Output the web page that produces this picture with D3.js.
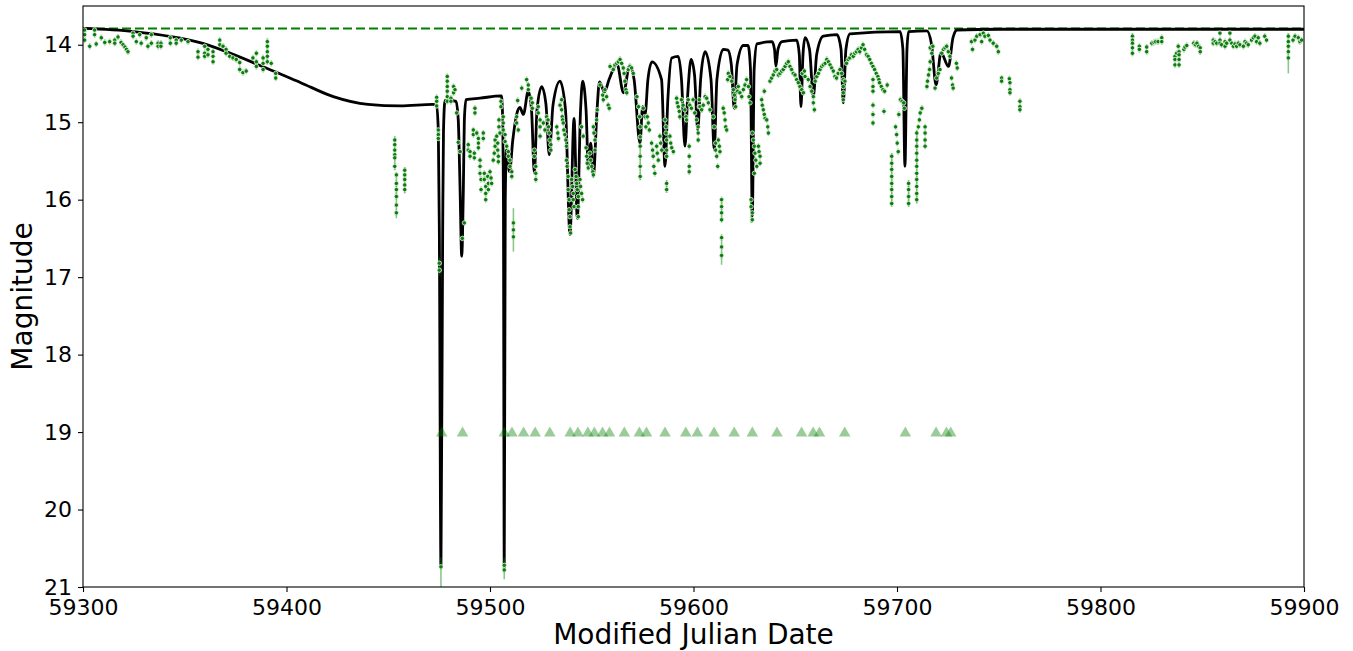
<!DOCTYPE html>
<html><head><meta charset="utf-8">
<script src="https://cdn.jsdelivr.net/npm/d3@7"></script>
<style>body{margin:0;background:#fff} svg{display:block} text{font-family:"DejaVu Sans",sans-serif;fill:#000}</style>
</head><body><svg id="c" width="1353" height="651"></svg>
<script>
// ---------- data ----------
const xTicks = [59300, 59400, 59500, 59600, 59700, 59800, 59900];
const yTicks = [14, 15, 16, 17, 18, 19, 20, 21];
const baselineMag = 13.79;
const limitMag = 19;
const xLabel = "Modified Julian Date";
const yLabel = "Magnitude";

// model light curve [MJD, mag]
const model = [
[59300,13.79],[59325,13.83],[59357,13.97],[59390,14.30],[59407,14.49],[59423,14.67],[59440,14.77],[59456,14.79],[59472,14.77],
[59473.7,14.79],[59474.6,15.10],[59475.1,16.39],[59475.9,20.75],[59476.75,16.39],[59477.15,15.10],[59477.9,14.72],[59480.3,14.72],[59483.3,14.73],
[59484.4,14.97],[59485.3,15.87],[59486.1,16.73],[59486.9,15.87],[59487.4,14.97],[59488.2,14.71],[59495.1,14.69],[59505.6,14.66],
[59506.1,14.84],[59506.6,16.0],[59507.0,20.78],[59507.5,16.0],[59508.1,15.36],[59509.6,15.64],[59511.2,15.23],[59513.1,14.90],[59514.7,14.81],
[59516.4,14.90],[59518.8,14.60],[59520.4,14.84],[59521.8,15.66],[59523.1,14.84],[59525.4,14.54],[59527.5,14.77],[59529.1,15.42],[59531.0,14.77],
[59534.4,14.47],[59537.1,14.84],[59539.3,16.45],[59541.3,14.95],[59542.9,16.24],[59544.5,14.84],[59545.5,14.47],[59547.2,14.84],[59548.3,15.57],
[59549.5,15.27],[59550.8,15.70],[59552.6,14.84],[59553.8,14.48],[59556.3,14.61],[59558.5,14.45],[59562.4,14.25],[59565.6,14.62],[59568.6,14.27],
[59570.8,14.45],[59573.7,15.27],[59575.0,14.80],[59576.2,14.90],[59577.6,14.45],[59579.6,14.22],[59584.3,14.45],[59586.0,15.57],[59587.4,14.70],
[59589.3,14.17],[59592.5,14.15],[59594.1,14.45],[59595.8,15.31],[59597.3,14.58],[59598.8,14.19],[59600.5,14.39],[59602.1,15.10],[59603.5,14.45],
[59605.7,14.09],[59608.6,14.45],[59610.2,15.36],[59611.5,14.45],[59614.6,14.06],[59616.9,14.07],[59618.6,14.26],[59620.0,14.82],[59621.4,14.26],
[59624.5,14.01],[59626.8,14.01],[59628.0,14.32],[59628.9,16.21],[59629.8,14.32],[59631.2,13.99],[59638.6,13.96],[59639.8,14.06],[59640.5,14.28],
[59641.5,14.06],[59643.5,13.96],[59650.7,13.94],[59652.0,14.13],[59652.8,14.80],[59653.8,14.13],[59654.8,13.91],[59657.0,14.06],[59658.9,14.67],
[59660.5,14.13],[59663.8,13.89],[59670.5,13.87],[59672.5,14.06],[59673.6,14.75],[59674.9,14.06],[59676.9,13.86],[59701.5,13.83],[59702.9,14.06],
[59703.9,15.57],[59704.9,14.06],[59705.7,13.83],[59714.7,13.82],[59717.0,14.0],[59719.2,14.52],[59721.6,14.10],[59725.3,14.28],[59727.5,13.91],
[59729.5,13.81],[59750.6,13.80],[59900,13.80]
];

// observations: [MJD, [mags observed at that epoch]]
const obs = [
[59300.8,[13.81,13.87,13.94]],[59303.3,[14.02]],[59305.7,[13.81,13.87]],[59306.5,[13.99]],[59309.0,[13.91]],[59310.7,[13.97]],
[59313.1,[13.96]],[59315.6,[13.94,13.98]],[59317.2,[13.90]],[59318.7,[13.97]],[59319.7,[14.00]],[59320.6,[14.03]],[59321.4,[14.06]],
[59322.1,[14.09]],[59324.6,[13.85,13.89]],[59326.2,[13.96]],[59327.9,[13.87]],[59328.6,[13.98]],[59331.1,[13.91]],[59331.9,[14.02]],
[59333.6,[13.87,13.98]],[59336.9,[13.98,14.02]],[59338.3,[13.98,14.02]],[59342.9,[13.91,13.98]],[59345.8,[13.94,13.98]],[59348.3,[13.94]],
[59351.6,[13.96]],[59356.5,[14.09,14.16]],[59359.8,[14.02,14.11,14.15]],[59361.4,[14.06,14.13]],[59363.9,[14.09,14.15,14.22]],
[59367.2,[13.94,14.00]],[59368.8,[14.02]],[59370.3,[14.06,14.11]],[59372.1,[14.15]],[59373.7,[14.17]],[59375.3,[14.19]],
[59377.0,[14.23,14.32]],[59378.6,[14.36]],[59380.2,[14.34]],[59383.5,[14.17]],[59385.2,[14.11,14.22,14.28]],[59388.5,[14.17,14.24,14.32]],
[59390.6,[13.96,14.02,14.09,14.15,14.22]],[59392.5,[14.24]],[59394.7,[14.37,14.43]],
[59453.2,[15.23,15.29,15.36,15.42,15.46,15.57]],[59454.0,[15.68,15.79,15.87,15.96,16.07,16.17]],[59458.1,[15.62,15.68,15.74,15.81,15.87]],
[59473.8,[14.68,14.73,14.79]],[59474.6,[15.10,15.16,15.21]],[59475.1,[16.82,16.91]],[59475.9,[20.74]],
[59479.0,[14.41,14.47,14.54,14.60,14.67,14.73]],[59480.8,[14.69,14.73]],[59482.1,[14.54,14.62]],[59482.8,[14.58]],[59483.6,[14.88]],
[59484.4,[15.26]],[59485.3,[15.38]],[59486.4,[16.50]],[59487.4,[16.30]],
[59489.3,[15.29,15.36]],[59490.2,[15.38,15.44]],[59491.8,[15.10,15.16]],[59492.3,[15.40,15.46]],[59492.6,[14.82,14.88]],[59493.5,[15.14]],
[59494.3,[15.21,15.27,15.33]],[59495.1,[15.49,15.57,15.66]],[59495.6,[15.74,15.87]],[59496.7,[15.14,15.21]],[59497.2,[15.66,15.74]],
[59497.9,[15.83,15.92,16.00]],[59498.9,[15.70]],[59499.2,[15.79,15.87]],[59500.0,[15.64]],[59500.5,[15.72]],[59500.8,[15.79]],
[59501.6,[15.49]],[59502.1,[15.40]],[59502.5,[15.23,15.31]],[59503.3,[15.18]],[59503.8,[15.27,15.36]],[59504.1,[15.44,15.51]],
[59504.4,[14.97,15.06]],[59504.9,[15.14]],[59505.4,[14.73,14.80]],[59506.5,[14.93,15.01,15.10]],[59507.0,[20.72,20.78]],
[59507.4,[15.16,15.25]],[59508.2,[15.31]],[59509.0,[15.38,15.44]],[59509.8,[15.49,15.57]],[59510.7,[15.64,15.70]],
[59511.5,[16.30,16.39,16.48]],[59513.1,[14.93,15.01]],[59513.9,[15.10]],[59513.6,[14.72]],[59515.6,[14.56]],[59518.0,[14.45]],
[59518.8,[14.52,14.58]],[59520.2,[14.69]],[59520.8,[14.75,14.82]],[59521.8,[15.36,15.44]],[59522.5,[15.57,15.66,15.74]],
[59523.7,[14.80,14.88]],[59524.6,[14.97,15.06,15.18]],[59526.2,[15.01]],[59527.0,[15.10]],[59527.8,[14.93]],[59528.5,[14.97]],
[59528.8,[15.06]],[59529.1,[15.14]],[59529.4,[15.23]],[59529.9,[15.29,15.36]],[59532.8,[15.06]],[59533.3,[15.14]],[59533.6,[15.21]],
[59534.4,[14.78]],[59535.2,[14.71,14.84]],[59535.5,[14.93]],[59535.7,[14.97]],[59536.0,[15.01]],[59536.3,[15.10]],[59536.8,[15.16]],
[59537.3,[15.23]],[59537.6,[15.31,15.49]],[59537.9,[15.57]],[59538.4,[15.70,15.87]],[59538.9,[16.00,16.13]],[59539.3,[16.22,16.35]],
[59539.6,[16.43]],[59540.1,[15.74]],[59540.6,[15.83]],[59540.9,[15.92,16.00]],[59541.3,[16.09]],[59541.8,[15.61]],[59542.3,[15.70]],
[59542.6,[15.79]],[59542.9,[15.87]],[59543.4,[15.96,16.09,16.22]],[59544.2,[15.74]],[59544.5,[15.83]],[59545.0,[15.06,15.92]],
[59545.5,[16.00]],[59545.8,[15.18]],[59547.2,[15.33]],[59547.5,[15.44]],[59547.8,[15.53]],[59548.3,[15.59]],[59549.1,[15.40]],
[59549.5,[15.49]],[59550.0,[15.57]],[59550.5,[15.64]],[59550.8,[15.06,15.68]],[59551.1,[15.14]],[59551.6,[15.23,15.36]],
[59552.4,[14.97]],[59552.7,[14.84]],[59554.1,[14.52]],[59555.4,[14.65]],[59555.7,[14.71]],[59556.5,[14.58]],[59557.3,[14.67]],
[59558.1,[14.78]],[59558.6,[14.82]],[59559.0,[14.28]],[59560.6,[14.32]],[59561.4,[14.26]],[59562.3,[14.24]],[59563.1,[14.22]],
[59563.9,[14.19]],[59564.7,[14.24]],[59565.5,[14.30]],[59565.9,[14.37]],[59566.3,[14.47]],[59566.8,[14.58]],[59567.2,[14.62]],
[59568.0,[14.32]],[59568.8,[14.28]],[59569.6,[14.30]],[59570.4,[14.37]],[59572.2,[14.67]],[59573.0,[14.80]],[59573.5,[14.93]],
[59573.8,[15.06,15.19,15.31,15.44,15.57,15.70]],[59575.3,[14.82]],[59576.2,[14.93]],[59576.6,[15.06]],[59577.3,[14.93]],
[59577.8,[15.01]],[59578.3,[15.10]],[59579.4,[15.27]],[59579.9,[15.36]],[59580.2,[15.44]],[59580.5,[15.57]],[59581.0,[15.66]],
[59581.9,[15.31]],[59582.2,[15.40]],[59582.7,[15.49]],[59583.5,[15.18]],[59583.9,[15.27]],[59584.4,[15.36]],[59586.0,[14.97]],
[59586.5,[15.06,15.14]],[59586.8,[15.23,15.36,15.44,15.79,15.87]],[59588.4,[15.18]],[59588.8,[15.27]],[59589.3,[15.33]],
[59590.1,[15.38]],[59591.7,[14.69]],[59592.0,[14.75]],[59592.5,[14.80]],[59593.0,[14.86]],[59593.3,[14.93]],[59594.1,[14.71]],
[59594.9,[14.78]],[59595.8,[14.84]],[59596.3,[14.93]],[59596.6,[14.97]],[59597.4,[14.71]],[59597.9,[15.31,15.44,15.57,15.64]],
[59598.2,[14.78]],[59599.0,[14.82]],[59599.8,[14.71]],[59600.6,[14.88]],[59601.5,[14.97]],[59602.3,[15.06,15.14,15.23]],
[59602.8,[14.71,14.80]],[59603.2,[14.80]],[59604.0,[14.84]],[59604.8,[14.78]],[59605.7,[14.67]],[59606.5,[14.69]],[59607.3,[14.75]],
[59608.1,[14.84]],[59609.7,[14.93]],[59610.2,[15.06]],[59610.9,[15.27,15.36]],[59611.4,[15.44]],[59611.9,[15.57]],[59612.2,[15.23]],
[59612.7,[15.31]],[59613.0,[15.38]],[59613.8,[16.00,16.09,16.17,16.26,16.49,16.61,16.72]],[59614.6,[14.82]],[59615.1,[14.88]],
[59615.5,[14.97]],[59615.8,[15.06]],[59616.3,[15.10]],[59616.8,[14.45]],[59617.1,[14.37]],[59617.9,[14.41]],[59618.8,[14.47]],
[59619.6,[14.58]],[59620.1,[14.65]],[59620.4,[14.71]],[59620.7,[14.80]],[59621.7,[14.60]],[59622.0,[14.54]],[59622.8,[14.62]],
[59623.7,[14.67]],[59624.5,[14.58]],[59625.3,[14.52]],[59626.1,[14.45]],[59627.0,[14.54]],[59627.3,[14.67]],[59627.8,[14.75]],
[59628.3,[16.00,16.09]],[59628.9,[15.14,16.17,16.26]],[59629.4,[15.23]],[59629.9,[15.31,15.66]],[59630.2,[15.40]],[59630.6,[15.49]],
[59631.1,[15.57]],[59631.9,[15.31]],[59632.2,[15.38]],[59632.7,[15.44,15.53]],[59633.5,[14.71]],[59633.8,[14.78]],[59634.3,[14.84]],
[59634.8,[14.60,14.90]],[59635.2,[14.95]],[59636.0,[14.97]],[59636.5,[15.06]],[59636.8,[15.14]],[59637.6,[14.47]],[59638.4,[14.43]],
[59639.2,[14.39]],[59640.0,[14.34]],[59640.9,[14.32]],[59641.7,[14.39]],[59642.5,[14.37]],[59643.3,[14.34]],[59644.1,[14.32]],
[59645.0,[14.28]],[59645.8,[14.24]],[59646.6,[14.22]],[59647.4,[14.28]],[59648.2,[14.32]],[59649.0,[14.37]],[59649.9,[14.39]],
[59650.7,[14.45]],[59651.5,[14.49]],[59652.3,[14.54]],[59653.2,[14.58]],[59653.5,[14.37]],[59654.0,[14.62]],[59654.5,[14.34]],
[59654.8,[14.41]],[59656.4,[14.45]],[59657.3,[14.54]],[59658.1,[14.60]],[59658.9,[14.67,14.75]],[59659.4,[14.84]],[59659.8,[14.47]],
[59660.6,[14.41]],[59661.4,[14.37]],[59662.2,[14.32]],[59663.0,[14.28]],[59663.8,[14.26]],[59664.7,[14.24]],[59665.5,[14.19]],
[59666.3,[14.22]],[59667.1,[14.26]],[59667.9,[14.30]],[59668.7,[14.34]],[59669.5,[14.41]],[59670.3,[14.43]],[59671.1,[14.37]],
[59672.0,[14.32]],[59672.8,[14.37]],[59673.6,[14.45,14.54,14.62,14.71]],[59674.4,[14.47]],[59675.2,[14.24]],[59676.0,[14.19]],
[59676.8,[14.17]],[59677.6,[14.13]],[59678.5,[14.15]],[59679.3,[14.11]],[59680.1,[14.09]],[59680.9,[14.06]],[59681.7,[14.09]],
[59682.5,[14.04]],[59683.3,[14.00]],[59684.1,[14.06]],[59685.0,[14.13]],[59685.8,[14.15]],[59686.6,[14.19]],[59687.4,[14.24]],
[59688.2,[14.28,14.45,14.54,14.60,14.78,14.90,15.01]],[59689.0,[14.32]],[59689.8,[14.37]],[59690.6,[14.41]],[59691.1,[14.45]],
[59691.4,[14.49]],[59692.3,[14.54]],[59693.1,[14.58]],[59693.6,[14.86]],[59693.9,[14.60]],[59695.2,[14.52]],
[59697.4,[15.44,15.53,15.61,15.70,15.79,15.87,15.96,16.05]],[59699.3,[15.06]],[59699.8,[15.16]],[59700.1,[15.27]],[59700.6,[15.38]],
[59700.9,[14.90]],[59701.7,[14.71]],[59702.5,[14.73]],[59703.3,[14.75]],[59703.6,[14.82]],[59705.7,[15.79,15.87,15.96,16.05]],
[59709.7,[15.14,15.23,15.31,15.40,15.49,15.57,15.66,15.74,15.83,15.92,16.00]],[59710.5,[15.06]],[59711.0,[14.97]],[59711.4,[14.88]],
[59712.2,[14.82]],[59713.8,[15.06,15.14,15.23,15.31]],[59714.7,[14.54]],[59715.0,[14.47]],[59715.5,[14.39]],[59716.0,[14.32]],
[59716.3,[14.22,14.04]],[59717.1,[14.11]],[59717.6,[14.02]],[59718.7,[14.56]],[59719.5,[14.43]],[59720.3,[14.37]],[59721.1,[14.32]],
[59722.0,[14.11]],[59722.8,[14.06]],[59723.6,[14.04]],[59724.4,[14.02]],[59725.2,[14.09]],[59726.0,[14.15]],[59726.8,[14.43]],
[59727.3,[14.52]],[59727.6,[14.56]],[59729.2,[14.24]],[59729.6,[14.30]],
[59736.6,[13.96]],[59737.1,[14.06]],[59738.3,[13.94]],[59739.2,[13.89]],[59740.8,[13.87]],[59741.6,[13.96]],[59742.4,[13.85]],
[59743.2,[13.89]],[59744.9,[13.88]],[59745.7,[13.94]],[59747.3,[13.98]],[59749.0,[14.02]],[59749.8,[14.09]],[59751.4,[14.43,14.47]],
[59755.2,[14.44]],[59755.5,[14.49,14.58,14.62]],[59760.4,[14.73,14.80,14.84]],
[59815.7,[13.89,13.94,13.98,14.04,14.11]],[59819.1,[14.02,14.06]],[59822.7,[14.03,14.09]],[59825.2,[13.98]],[59826.3,[13.97]],
[59827.1,[13.96]],[59828.3,[13.96]],[59830.1,[13.91,13.96]],[59836.6,[14.15,14.19,14.26]],[59837.4,[14.11]],[59838.2,[14.02]],
[59838.6,[14.09,14.13,14.19,14.26]],[59841.0,[14.06]],[59841.5,[14.03]],[59842.4,[14.01]],[59845.8,[13.98]],[59846.6,[14.00]],
[59847.4,[13.98]],[59848.2,[14.02]],[59849.0,[14.04,14.09]],[59855.4,[13.94,13.98]],[59856.3,[13.96]],[59857.1,[13.98]],
[59858.7,[13.85,13.94,13.98]],[59859.5,[14.00]],[59861.2,[13.96,14.02]],[59862.0,[13.98]],[59863.6,[13.85,13.94]],[59864.5,[13.98]],
[59865.3,[14.02]],[59866.1,[13.99]],[59866.9,[14.02]],[59867.7,[13.98]],[59868.5,[14.00]],[59870.2,[14.02]],[59871.0,[13.96]],
[59871.8,[13.98]],[59872.6,[14.00]],[59874.2,[13.94]],[59875.1,[13.91]],[59875.9,[13.89]],[59876.7,[13.96]],[59877.5,[13.91]],
[59878.3,[13.98]],[59880.7,[13.89]],[59881.6,[13.94]],[59892.3,[13.89,13.96,14.02,14.09,14.17]],[59894.6,[13.94]],[59895.6,[13.89]],
[59897.2,[13.91]],[59898.0,[13.96]],[59898.8,[13.94]]
];
const pointErr = 0.04;

// longer error-bar extents [MJD, bright end, faint end]
const errSpans = [
[59475.9,20.62,21.0],[59475.1,16.75,16.98],[59507.0,20.62,20.9],[59454.0,15.65,16.24],[59453.2,15.18,15.62],
[59458.1,15.58,15.92],[59511.5,16.11,16.67],[59613.8,15.98,16.29],[59613.8,16.45,16.84],[59390.6,13.92,14.25],
[59815.7,13.85,14.14],[59892.3,13.85,14.37],[59697.4,15.40,16.09],[59709.7,15.10,16.05],[59705.7,15.75,16.09],
[59573.8,15.0,15.75],[59586.8,15.75,15.91],[59479.0,14.38,14.76],[59628.3,15.97,16.3]
];

// epochs of triangle markers (plotted at limitMag)
const eventTimes = [59476.3,59486.5,59507.0,59510.8,59516.5,59522.2,59529.4,59539.4,59543.2,59548.1,59551.3,59555.3,
59558.7,59566.0,59573.4,59576.9,59586.0,59596.2,59601.9,59610.1,59620.0,59628.9,59641.0,59653.1,59658.8,59661.9,
59674.3,59704.1,59719.2,59724.3,59726.4];

// ---------- drawing ----------
const L=83, R=1304, T=6, B=587;
const svg = d3.select("#c");
const x = d3.scaleLinear().domain([59300,59900]).range([L,R]);
const y = d3.scaleLinear().domain([13.5,21]).range([T,B]);

svg.append("defs").append("clipPath").attr("id","clip")
  .append("rect").attr("x",L).attr("y",T).attr("width",R-L).attr("height",B-T);
const g = svg.append("g").attr("clip-path","url(#clip)");

// dashed baseline
g.append("line").attr("x1",L).attr("x2",R).attr("y1",y(baselineMag)).attr("y2",y(baselineMag))
  .attr("stroke","#008000").attr("stroke-width",2).attr("stroke-dasharray","9,4");

// model
g.append("path").datum(model)
  .attr("d", d3.line().x(d=>x(d[0])).y(d=>y(d[1])).curve(d3.curveMonotoneX))
  .attr("fill","none").attr("stroke","#000").attr("stroke-width",2.8).attr("stroke-linejoin","round");

// flatten observations
const pts = [];
obs.forEach(([t,ms]) => ms.forEach(m => pts.push([t,m])));

// error bars
const eb = g.append("g").attr("stroke","#008000").attr("stroke-opacity",0.45).attr("stroke-width",1.6);
eb.selectAll("line.s").data(errSpans).join("line").attr("class","s")
  .attr("x1",d=>x(d[0])).attr("x2",d=>x(d[0])).attr("y1",d=>y(d[1])).attr("y2",d=>y(d[2]));
eb.selectAll("line.p").data(pts).join("line").attr("class","p")
  .attr("x1",d=>x(d[0])).attr("x2",d=>x(d[0])).attr("y1",d=>y(d[1]-pointErr)).attr("y2",d=>y(d[1]+pointErr));

// points
g.append("g").selectAll("circle").data(pts).join("circle")
  .attr("cx",d=>x(d[0])).attr("cy",d=>y(d[1])).attr("r",2.2)
  .attr("fill","#0b7d0b").attr("stroke","#ffffff").attr("stroke-opacity",0.8).attr("stroke-width",0.9);

// triangles
g.append("g").selectAll("path").data(eventTimes).join("path")
  .attr("d", d3.symbol(d3.symbolTriangle, 58))
  .attr("transform", d=>`translate(${x(d)},${y(limitMag)+1})`)
  .attr("fill","#008000").attr("fill-opacity",0.4);

// axes
const xa = svg.append("g").attr("transform",`translate(0,${B})`)
  .call(d3.axisBottom(x).tickValues(xTicks).tickFormat(d3.format("d")).tickSize(5).tickPadding(7));
const ya = svg.append("g").attr("transform",`translate(${L},0)`)
  .call(d3.axisLeft(y).tickValues(yTicks).tickFormat(d3.format("d")).tickSize(5).tickPadding(6));
[xa,ya].forEach(a=>{
  a.select(".domain").remove();
  a.selectAll(".tick line").attr("stroke","#000").attr("stroke-width",1.1);
  a.selectAll(".tick text").attr("font-size",22).attr("font-family","DejaVu Sans").attr("fill","#000");
});

// frame
svg.append("rect").attr("x",L).attr("y",T).attr("width",R-L).attr("height",B-T)
  .attr("fill","none").attr("stroke","#000").attr("stroke-width",1.1);

// labels
svg.append("text").attr("x",(L+R)/2).attr("y",644).attr("text-anchor","middle")
  .attr("font-size",28).text(xLabel);
svg.append("text").attr("transform",`translate(32,${(T+B)/2}) rotate(-90)`).attr("text-anchor","middle")
  .attr("font-size",28).text(yLabel);
</script></body></html>
